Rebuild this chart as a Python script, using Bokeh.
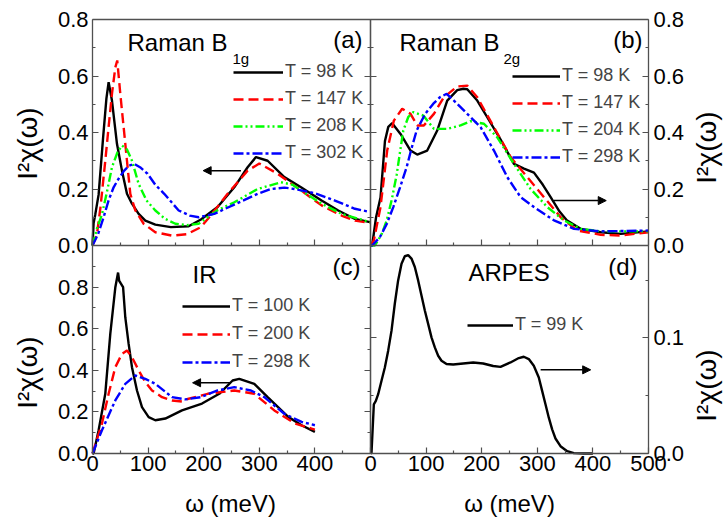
import math
from bokeh.plotting import figure
from bokeh.models import (Range1d, FixedTicker, PrintfTickFormatter, LinearAxis, Label,
                          Arrow, NormalHead, Legend, LegendItem)
from bokeh.embed import file_html
from bokeh.resources import INLINE

FONT = "Liberation Sans"
AXC = "#505050"

# ---------------- data (meV, I^2 chi) ----------------
# (a) Raman B1g
a_x98 = [0, 2, 5, 11, 19, 25, 29, 35, 44, 53, 62, 71, 83, 95, 113, 141, 173, 195, 225, 255, 279, 294, 315, 345, 375, 412, 442, 472, 499]
a_y98 = [0, 0.08, 0.11, 0.18, 0.38, 0.52, 0.578, 0.513, 0.36, 0.265, 0.183, 0.148, 0.112, 0.088, 0.074, 0.065, 0.068, 0.092, 0.136, 0.206, 0.277, 0.313, 0.30, 0.242, 0.206, 0.159, 0.124, 0.094, 0.083]
a_x147 = [0, 8, 14.5, 23, 29, 35, 41, 44.5, 50, 56, 62, 68, 77, 92, 113, 143, 170, 195, 210, 243, 279, 300, 333, 375, 412, 448, 472, 499]
a_y147 = [0, 0.04, 0.138, 0.3, 0.42, 0.537, 0.63, 0.655, 0.537, 0.419, 0.3, 0.183, 0.124, 0.077, 0.047, 0.035, 0.04, 0.065, 0.1, 0.183, 0.265, 0.29, 0.254, 0.195, 0.142, 0.106, 0.088, 0.08]
a_x208 = [0, 8, 17, 26, 35, 45, 53, 62, 71, 83, 97, 113, 130, 149, 170, 191, 207, 225, 255, 297, 339, 360, 375, 412, 448, 499]
a_y208 = [0, 0.06, 0.11, 0.19, 0.277, 0.33, 0.354, 0.34, 0.3, 0.218, 0.16, 0.124, 0.095, 0.077, 0.072, 0.077, 0.1, 0.125, 0.153, 0.2, 0.224, 0.215, 0.195, 0.148, 0.112, 0.083]
a_x302 = [0, 10, 20, 29, 38, 48, 57, 66, 75, 87, 99, 113, 129, 155, 175, 191, 219, 255, 297, 321, 345, 363, 400, 436, 472, 496]
a_y302 = [0, 0.04, 0.1, 0.16, 0.206, 0.24, 0.265, 0.283, 0.289, 0.275, 0.254, 0.215, 0.183, 0.124, 0.106, 0.1, 0.112, 0.145, 0.183, 0.2, 0.205, 0.2, 0.185, 0.159, 0.13, 0.12]

# (b) Raman B2g
b_x98 = [0, 3, 10, 18, 26, 32, 39, 54, 72, 84, 102, 120, 138, 156, 167, 174, 192, 210, 234, 258, 276, 294, 310, 324, 340, 353, 378, 414, 450, 500]
b_y98 = [0, 0, 0.1, 0.17, 0.37, 0.42, 0.433, 0.395, 0.336, 0.322, 0.336, 0.407, 0.513, 0.55, 0.555, 0.553, 0.513, 0.454, 0.375, 0.289, 0.272, 0.258, 0.215, 0.171, 0.12, 0.089, 0.059, 0.047, 0.041, 0.05]
b_x147 = [0, 6, 18, 30, 42, 57, 72, 84, 96, 114, 132, 156, 174, 192, 222, 252, 282, 312, 342, 372, 414, 450, 500]
b_y147 = [0, 0.018, 0.136, 0.336, 0.442, 0.484, 0.466, 0.425, 0.425, 0.466, 0.525, 0.563, 0.566, 0.525, 0.419, 0.313, 0.242, 0.171, 0.1, 0.053, 0.038, 0.035, 0.047]
b_x204 = [0, 8, 20, 29, 38, 47, 53, 59, 68, 77, 95, 114, 138, 162, 180, 204, 228, 258, 288, 318, 348, 378, 414, 500]
b_y204 = [0, 0, 0.04, 0.088, 0.16, 0.25, 0.33, 0.407, 0.455, 0.472, 0.46, 0.413, 0.413, 0.425, 0.44, 0.431, 0.383, 0.289, 0.2, 0.136, 0.089, 0.059, 0.05, 0.05]
b_x298 = [0, 3, 17, 29, 41, 53, 65, 74, 83, 98, 113, 125, 137, 150, 174, 198, 222, 246, 270, 294, 330, 366, 414, 500]
b_y298 = [0, 0, 0.03, 0.075, 0.136, 0.205, 0.277, 0.345, 0.407, 0.465, 0.502, 0.525, 0.537, 0.513, 0.466, 0.419, 0.336, 0.242, 0.171, 0.136, 0.089, 0.059, 0.05, 0.053]

# (c) IR
c_x100 = [0, 2, 11, 23, 32, 41, 46, 48, 50, 55, 59, 65, 71, 80, 89, 101, 113, 131, 161, 197, 228, 252, 264, 291, 315, 352, 376, 400]
c_y100 = [0, 0, 0.112, 0.287, 0.575, 0.798, 0.87, 0.83, 0.822, 0.8, 0.654, 0.527, 0.415, 0.303, 0.223, 0.175, 0.16, 0.168, 0.207, 0.24, 0.287, 0.351, 0.359, 0.335, 0.271, 0.176, 0.136, 0.104]
c_x200 = [0, 17, 29, 41, 53, 62, 71, 83, 95, 107, 125, 143, 161, 171, 207, 255, 291, 327, 364, 394, 400]
c_y200 = [0, 0.144, 0.287, 0.415, 0.479, 0.495, 0.463, 0.4, 0.343, 0.303, 0.271, 0.255, 0.25, 0.262, 0.287, 0.303, 0.287, 0.207, 0.144, 0.12, 0.115]
c_x298 = [0, 17, 41, 59, 77, 95, 113, 143, 167, 195, 225, 255, 285, 309, 345, 376, 400]
c_y298 = [0, 0.112, 0.255, 0.335, 0.375, 0.359, 0.335, 0.271, 0.26, 0.271, 0.303, 0.319, 0.303, 0.271, 0.191, 0.152, 0.136]

# (d) ARPES
d_x99 = [0, 1.8, 6, 9.6, 13.8, 19.8, 25.8, 31.8, 37.8, 43.7, 49.7, 55.8, 61.7, 67.8, 73.7, 79.7, 85.7, 91.7, 97.7,
         103.7, 109.7, 115.7, 121.7, 127.7, 136.7, 148.7, 166.7, 184.7, 202.7, 220.7, 233.8, 251.8, 266.7, 275.7,
         284.7, 293.7, 302.7, 308.7, 314.7, 320.7, 326.7, 332.7, 341.7, 353.8, 365.7, 383.7, 400]
d_y99 = [0, 0.0005, 0.0426, 0.0455, 0.0513, 0.0629, 0.0744, 0.089, 0.1063, 0.1296, 0.1498, 0.1643, 0.1707, 0.1716,
         0.1687, 0.1614, 0.1498, 0.1368, 0.1237, 0.1122, 0.1005, 0.0918, 0.0846, 0.0803, 0.0774, 0.077, 0.0779,
         0.0788, 0.0779, 0.0757, 0.075, 0.0788, 0.0826, 0.0837, 0.0817, 0.0759, 0.0657, 0.0542, 0.0426, 0.031,
         0.0209, 0.013, 0.0063, 0.002, 0.0003, 0.0, 0.0]

x_ticks_full = [0, 100, 200, 300, 400, 500]
x_ticks_left = [0, 100, 200, 300, 400]
x_minor = [50, 150, 250, 350, 450]
y_ticks = [0.0, 0.2, 0.4, 0.6, 0.8]
y_minor_top = [0.1, 0.3, 0.5, 0.7]
y_minor_c = [0.1, 0.3, 0.5, 0.7, 0.9]
y_ticks_d = [0.0, 0.1]
y_minor_d = [0.05, 0.15]

YLABEL = "I\u00b2\u03c7(\u03c9)"
XLABEL = "\u03c9 (meV)"

STYLES = {
    "black": dict(line_color="black", line_width=2.4),
    "red": dict(line_color="#ff0000", line_width=2.4, line_dash="10 5"),
    "green": dict(line_color="#00ff00", line_width=2.4, line_dash="9 3 2 3 2 3"),
    "blue": dict(line_color="#0000ff", line_width=2.4, line_dash="10 3 3 3"),
}

# ---------------- layout ----------------
# The frame is the whole canvas; each panel gets its own named ranges so that
# it lands at its place on the page. Pixel positions of panel edges:
W, H = 724, 517
PX_L, PX_M, PX_R = 92, 370, 648          # x of left edge, divider, right edge
PY_T, PY_M, PY_B = 19, 245, 453          # y (from top) of top edge, divider, bottom edge


def rng(v0, v1, p0, p1, total):
    s = (v1 - v0) / (p1 - p0)
    start = v0 - p0 * s
    return Range1d(start, start + total * s)


x_left = rng(0, 500, PX_L, PX_M, W)
x_right = rng(0, 500, PX_M, PX_R, W)
y_c = rng(0, 1.0, H - PY_B, H - PY_M, H)
y_top = rng(0, 0.8, H - PY_M, H - PY_T, H)
y_d = rng(0, 0.18, H - PY_B, H - PY_M, H)

p = figure(width=W, height=H, frame_width=W, frame_height=H, output_backend="svg",
           toolbar_location=None, x_axis_location=None, y_axis_location=None,
           x_range=x_left, y_range=y_c,
           min_border_left=0, min_border_right=0, min_border_top=0, min_border_bottom=0)
p.grid.visible = False
p.outline_line_color = None
p.background_fill_color = "white"
p.border_fill_color = "white"
p.extra_x_ranges = {"xr": x_right}
p.extra_y_ranges = {"yt": y_top, "yd": y_d}


def edge(side, fixed, bounds, ticks=(), minor=(), xr="default", yr="default",
         fmt=None, standoff=4, minor_len=3, major_len=6, rule=True):
    ax = LinearAxis(ticker=FixedTicker(ticks=list(ticks), minor_ticks=list(minor)),
                    fixed_location=fixed, bounds=bounds, x_range_name=xr, y_range_name=yr)
    ax.axis_line_color = AXC if rule else None
    ax.axis_line_width = 1.3
    ax.major_tick_line_color = AXC
    ax.minor_tick_line_color = AXC
    ax.major_tick_line_width = 1.2
    ax.minor_tick_line_width = 1.2
    ax.major_tick_in = major_len
    ax.major_tick_out = 0
    ax.minor_tick_in = minor_len
    ax.minor_tick_out = 0
    ax.major_label_text_font = FONT
    ax.major_label_text_font_size = "22px"
    ax.major_label_text_color = "black"
    ax.major_label_standoff = standoff
    if fmt:
        ax.formatter = PrintfTickFormatter(format=fmt)
    p.add_layout(ax, side)


def inner(side, fixed, bounds, ticks, minor, xr="default", yr="default"):
    # unlabelled tick marks on an inner panel edge (long marks at major positions)
    edge(side, fixed, bounds, (), ticks, xr, yr, minor_len=6, rule=True)
    edge(side, fixed, bounds, (), minor, xr, yr, minor_len=3, rule=False)


# outer, labelled edges
edge("left", 0, (0, 0.8), y_ticks, y_minor_top, yr="yt", fmt="%.1f", standoff=4)
edge("left", 0, (0, 1.0), y_ticks, y_minor_c, fmt="%.1f", standoff=4)
edge("right", 500, (0, 0.8), y_ticks, y_minor_top, xr="xr", yr="yt", fmt="%.1f", standoff=5)
edge("right", 500, (0, 0.18), y_ticks_d, y_minor_d, xr="xr", yr="yd", fmt="%.1f", standoff=5)
edge("below", 0, (0, 500), x_ticks_left, x_minor, standoff=2)
edge("below", 0, (0, 500), x_ticks_full, x_minor, xr="xr", standoff=2)
# top edges (line only)
edge("above", 0.8, (0, 500), yr="yt")
edge("above", 0.8, (0, 500), xr="xr", yr="yt")
# inner edges with inward ticks
inner("below", 0, (0, 500), x_ticks_full, x_minor, yr="yt")
inner("below", 0, (0, 500), x_ticks_full, x_minor, xr="xr", yr="yt")
inner("right", 500, (0, 0.8), y_ticks, y_minor_top, yr="yt")
inner("right", 500, (0, 1.0), y_ticks, y_minor_c)
inner("left", 0, (0, 0.8), y_ticks, y_minor_top, xr="xr", yr="yt")
inner("left", 0, (0, 0.18), y_ticks_d, y_minor_d, xr="xr", yr="yd")

# ---- curves ----
ra = [p.line(a_x98, a_y98, y_range_name="yt", **STYLES["black"]),
      p.line(a_x147, a_y147, y_range_name="yt", **STYLES["red"]),
      p.line(a_x208, a_y208, y_range_name="yt", **STYLES["green"]),
      p.line(a_x302, a_y302, y_range_name="yt", **STYLES["blue"])]
rb = [p.line(b_x98, b_y98, x_range_name="xr", y_range_name="yt", **STYLES["black"]),
      p.line(b_x147, b_y147, x_range_name="xr", y_range_name="yt", **STYLES["red"]),
      p.line(b_x204, b_y204, x_range_name="xr", y_range_name="yt", **STYLES["green"]),
      p.line(b_x298, b_y298, x_range_name="xr", y_range_name="yt", **STYLES["blue"])]
rc = [p.line(c_x100, c_y100, **STYLES["black"]),
      p.line(c_x200, c_y200, **STYLES["red"]),
      p.line(c_x298, c_y298, **STYLES["blue"])]
rd = [p.line(d_x99, d_y99, x_range_name="xr", y_range_name="yd", **STYLES["black"])]


def add_legend(items, loc, gw, spacing):
    leg = Legend(items=items, location=loc, glyph_width=gw, glyph_height=20, label_height=20,
                 spacing=spacing, padding=0, margin=0, border_line_color=None,
                 background_fill_alpha=0, label_text_font=FONT, label_text_font_size="18px",
                 label_standoff=2)
    p.add_layout(leg)


def add_text(x, y, text, size="24px", align="left", angle=0.0):
    # x, y: pixels from the left / bottom of the canvas to the middle of the text line
    p.add_layout(Label(x=x, y=y, x_units="screen", y_units="screen", text=text, text_font=FONT,
                       text_font_size=size, text_baseline="middle", text_align=align, angle=angle,
                       text_color="black"))


def add_arrow(xs, xe, y, xr="default", yr="default"):
    p.add_layout(Arrow(end=NormalHead(size=8, fill_color="black", line_color="black", line_width=1),
                       x_start=xs, y_start=y, x_end=xe, y_end=y, line_color="black", line_width=1.5,
                       x_range_name=xr, y_range_name=yr))


add_legend([LegendItem(label="T = 98 K", renderers=[ra[0]]), LegendItem(label="T = 147 K", renderers=[ra[1]]),
            LegendItem(label="T = 208 K", renderers=[ra[2]]), LegendItem(label="T = 302 K", renderers=[ra[3]])],
           (233, 354), 50, 6)
add_legend([LegendItem(label="T = 98 K", renderers=[rb[0]]), LegendItem(label="T = 147 K", renderers=[rb[1]]),
            LegendItem(label="T = 204 K", renderers=[rb[2]]), LegendItem(label="T = 298 K", renderers=[rb[3]])],
           (512, 350), 48, 6)
add_legend([LegendItem(label="T = 100 K", renderers=[rc[0]]), LegendItem(label="T = 200 K", renderers=[rc[1]]),
            LegendItem(label="T = 298 K", renderers=[rc[2]])],
           (182, 145), 48, 7)
add_legend([LegendItem(label="T = 99 K", renderers=[rd[0]])], (467, 182), 46, 6)

# panel titles
add_text(127, 475, "Raman B")
add_text(232, 459, "1g", size="15px")
add_text(362, 478, "(a)", align="right")
add_text(399, 475, "Raman B")
add_text(503, 459, "2g", size="15px")
add_text(642, 478, "(b)", align="right")
add_text(192, 243, "IR")
add_text(360, 251, "(c)", align="right")
add_text(468, 245, "ARPES")
add_text(637, 251, "(d)", align="right")

# axis titles
add_text(27, 374, YLABEL, size="28px", align="center", angle=math.pi / 2)
add_text(27, 145, YLABEL, size="28px", align="center", angle=math.pi / 2)
add_text(706, 370, YLABEL, size="28px", align="center", angle=math.pi / 2)
add_text(706, 132, YLABEL, size="28px", align="center", angle=math.pi / 2)
add_text(230, 14, XLABEL, align="center")
add_text(509, 14, XLABEL, align="center")

# arrows pointing to the relevant axis
add_arrow(267, 199, 0.265, yr="yt")
add_arrow(330, 424, 0.159, xr="xr", yr="yt")
add_arrow(249, 180, 0.34)
add_arrow(306, 396, 0.0724, xr="xr", yr="yd")

with open("out.html", "w") as f:
    f.write(file_html(p, INLINE))
